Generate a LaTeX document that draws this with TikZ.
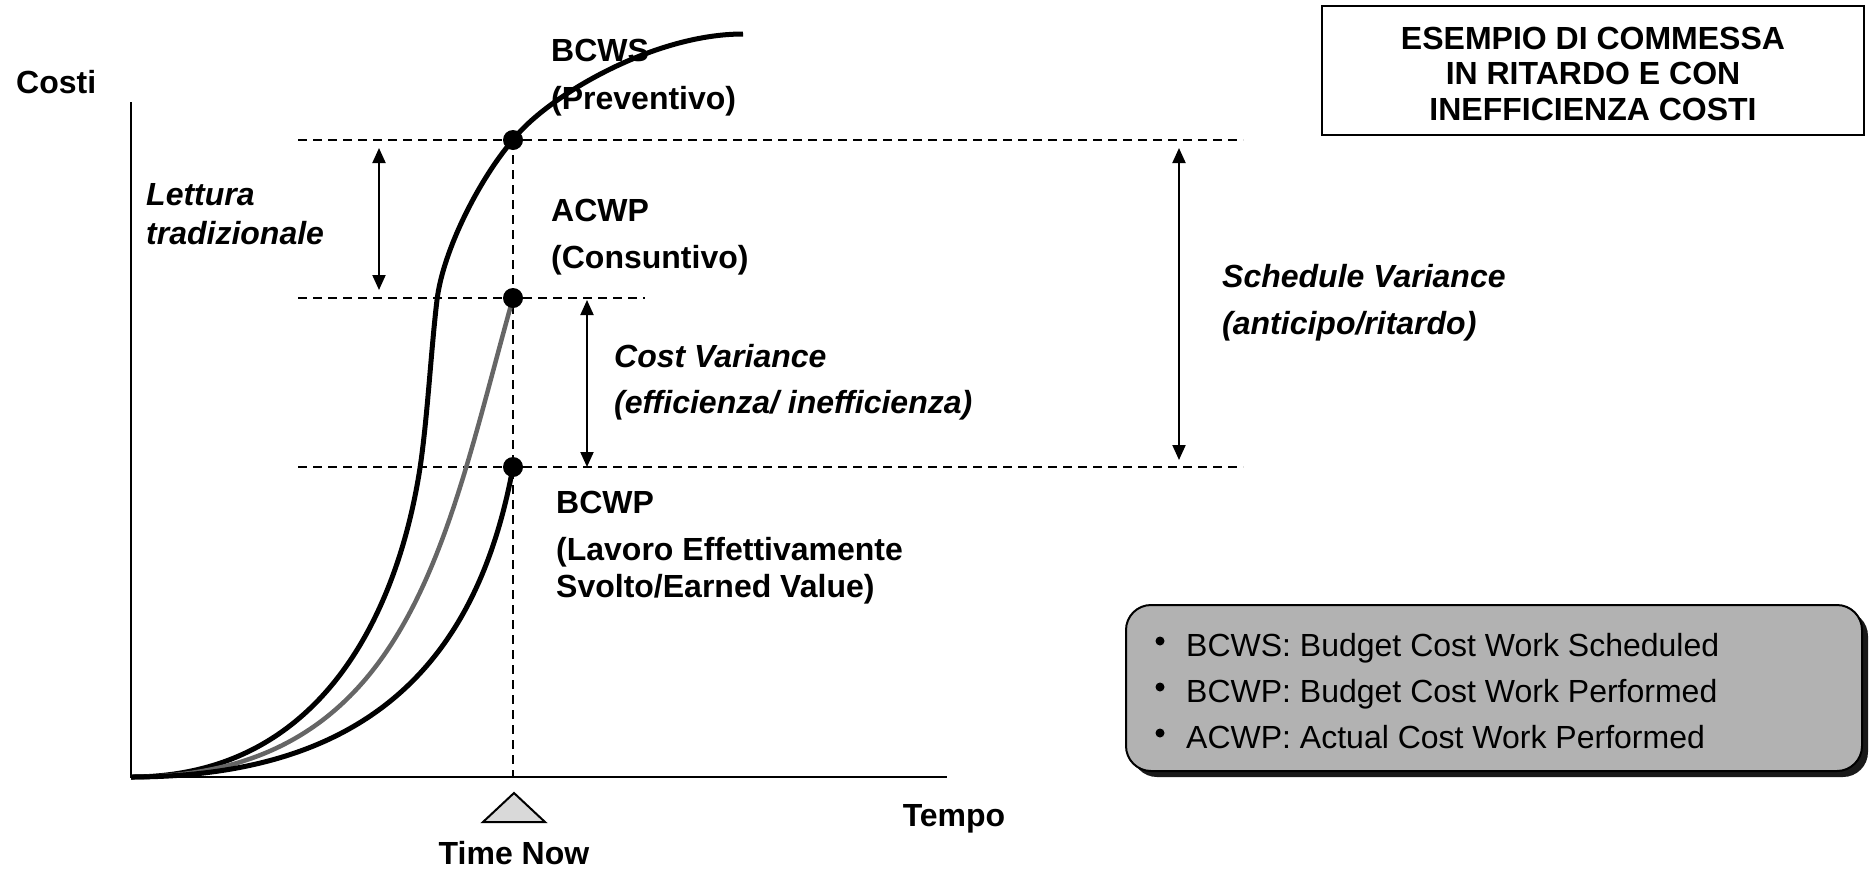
\documentclass[tikz,border=0pt]{standalone}
\usepackage{fontspec}
\setmainfont{Liberation Sans}
\usetikzlibrary{arrows.meta}
\begin{document}
\begin{tikzpicture}[x=1pt,y=-1pt,
  lbl/.style={anchor=base west, inner sep=0pt, font=\fontsize{32}{38}\selectfont\bfseries},
  ilbl/.style={anchor=base west, inner sep=0pt, font=\fontsize{32}{38}\selectfont\bfseries\itshape},
  clbl/.style={anchor=base, inner sep=0pt, font=\fontsize{32}{38}\selectfont\bfseries},
  ttl/.style={anchor=base, inner sep=0pt, font=\fontsize{32}{36}\selectfont\bfseries},
  leg/.style={anchor=base west, inner sep=0pt, font=\fontsize{32}{38}\selectfont},
  guide/.style={line width=2pt, dash pattern=on 9pt off 6pt},
  span/.style={line width=2pt, {Triangle[length=15pt,width=13pt]}-{Triangle[length=15pt,width=13pt]}},
  curve/.style={line width=5pt},
  axis/.style={line width=2.5pt},
  dot/.style={circle, fill=black, minimum size=20pt, inner sep=0pt}
]
\useasboundingbox (0,0) rectangle (1874,871);

% axes
\coordinate (O) at (131,777);
\coordinate (ytop) at (131,102);
\coordinate (xend) at (947,777);
\draw[axis] (ytop) -- (O) -- (xend);

% points read at time now
\coordinate (pS) at (513,140);
\coordinate (pA) at (513,298);
\coordinate (pP) at (513,467);

% guide lines
\coordinate (gS0) at (298,140); \coordinate (gS1) at (1243,140);
\coordinate (gA0) at (298,298); \coordinate (gA1) at (645,298);
\coordinate (gP0) at (298,467); \coordinate (gP1) at (1243,467);
\draw[guide] (gS0) -- (gS1);
\draw[guide] (gA0) -- (gA1);
\draw[guide] (gP0) -- (gP1);
\draw[guide] (pS) -- (pS |- O);

% BCWS curve
\draw[curve] (O) .. controls (330,777) and (400,598) .. (420,468)
  .. controls (427.5,418) and (431,350) .. (437,300)
  .. controls (443,250) and (480,178) .. (pS)
  .. controls (543,100) and (650,34) .. (743,34);
% ACWP curve
\draw[curve, line width=4.5pt, black!60] (O) .. controls (410,777) and (445,540) .. (pA);
% BCWP curve
\draw[curve] (O) .. controls (367,777) and (477,663) .. (pP);

\node[dot] (dS) at (pS) {};
\node[dot] (dA) at (pA) {};
\node[dot] (dP) at (pP) {};

% variance arrows
\coordinate (l0) at (379,148); \coordinate (l1) at (379,290);
\coordinate (c0) at (587,300); \coordinate (c1) at (587,467);
\coordinate (s0) at (1179,148); \coordinate (s1) at (1179,460);
\draw[span] (l0) -- (l1);
\draw[span] (c0) -- (c1);
\draw[span] (s0) -- (s1);

% labels
\node[lbl] (costi) at (16,93) {Costi};
\node[lbl] (bcws1) at (551,61) {BCWS};
\node[lbl] (bcws2) at (551,109) {(Preventivo)};
\node[lbl] (acwp1) at (551,221) {ACWP};
\node[lbl] (acwp2) at (551,268) {(Consuntivo)};
\node[ilbl] (lett1) at (146,205) {Lettura};
\node[ilbl] (lett2) at (146,244) {tradizionale};
\node[ilbl] (cv1) at (614,367) {Cost Variance};
\node[ilbl] (cv2) at (614,413) {(efficienza/ inefficienza)};
\node[ilbl] (sv1) at (1222,287) {Schedule Variance};
\node[ilbl] (sv2) at (1222,334) {(anticipo/ritardo)};
\node[lbl] (bcwp1) at (556,513) {BCWP};
\node[lbl] (bcwp2) at (556,560) {(Lavoro Effettivamente};
\node[lbl] (bcwp3) at (556,597) {Svolto/Earned Value)};
\node[clbl] (tempo) at (954,826) {Tempo};
\node[clbl] (now) at (514,864) {Time Now};

% time now marker
\draw[line width=2pt, fill=black!15] (514,793) -- (545,822) -- (483,822) -- cycle;

% title box
\draw[line width=2pt] (1322,6) rectangle (1864,135);
\node[ttl] (t1) at (1593,49) {ESEMPIO DI COMMESSA};
\node[ttl] (t2) at (1593,84) {IN RITARDO E CON};
\node[ttl] (t3) at (1593,120) {INEFFICIENZA COSTI};

% legend box
\fill[black!90, rounded corners=25pt] (1132,611) rectangle (1868,777);
\draw[line width=2pt, fill=black!30, rounded corners=25pt] (1126,605) rectangle (1862,771);
\fill (1160,641) circle (4.5pt);
\fill (1160,687) circle (4.5pt);
\fill (1160,733) circle (4.5pt);
\node[leg] (k1) at (1186,656) {BCWS: Budget Cost Work Scheduled};
\node[leg] (k2) at (1186,702) {BCWP: Budget Cost Work Performed};
\node[leg] (k3) at (1186,748) {ACWP: Actual Cost Work Performed};
\end{tikzpicture}
\end{document}
